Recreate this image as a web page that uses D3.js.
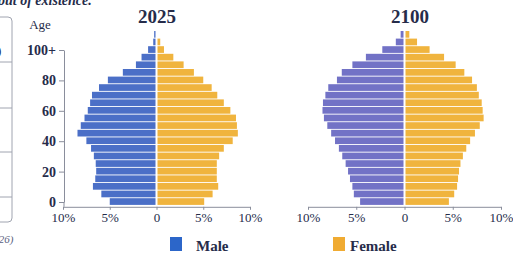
<!DOCTYPE html>
<html>
<head>
<meta charset="utf-8">
<script src="https://cdn.jsdelivr.net/npm/d3@7"></script>
<style>
  body { margin: 0; background: #fff; }
  svg { display: block; }
  text { font-family: "Liberation Serif", "DejaVu Serif", serif; fill: #262c4a; }
</style>
</head>
<body>
<script>
var W = 513, H = 256;

// 5-year age groups, bottom to top (groups above 100 sit over the "100+" tick)
var ageStart = [0, 5, 10, 15, 20, 25, 30, 35, 40, 45, 50, 55, 60, 65, 70, 75, 80, 85, 90, 95, 100, 105, 110];

// share of population, %
var male2025   = [5.0, 5.9, 6.8, 6.55, 6.45, 6.5, 6.7, 7.0, 7.5, 8.45, 8.1, 7.7, 7.35, 7.1, 6.9, 6.15, 5.2, 3.6, 2.2, 1.6, 0.9, 0.35, 0.25];
var female2025 = [5.1, 6.0, 6.6, 6.45, 6.45, 6.45, 6.7, 7.2, 8.15, 8.7, 8.6, 8.5, 7.9, 7.2, 6.5, 5.9, 5.0, 4.0, 2.9, 1.8, 0.8, 0.4, 0];
var male2100   = [4.6, 5.25, 5.4, 5.65, 5.85, 6.1, 6.45, 6.8, 7.2, 7.6, 8.0, 8.35, 8.5, 8.45, 8.2, 7.9, 7.0, 6.5, 5.4, 4.0, 2.3, 0.9, 0.4];
var female2100 = [4.6, 5.15, 5.45, 5.55, 5.65, 5.8, 6.05, 6.4, 6.8, 7.3, 7.8, 8.2, 8.1, 8.0, 7.7, 7.5, 7.0, 6.2, 5.3, 4.1, 2.6, 1.3, 0.5];

var ageTicks = [0, 20, 40, 60, 80, 100];
var pctTicks = [-10, -5, 0, 5, 10];
var legendLabels = ["Male", "Female"];

var svg = d3.select("body").append("svg")
  .attr("width", W)
  .attr("height", H);

// bits of the surrounding page
svg.append("text")
  .attr("x", -2).attr("y", 5)
  .style("font-size", "14px").style("font-style", "italic").style("font-weight", "bold")
  .text("out of existence.");

svg.append("rect")
  .attr("x", -30).attr("y", 17).attr("width", 42).attr("height", 205)
  .attr("rx", 4)
  .attr("fill", "none").attr("stroke", "#a0a4b0").attr("stroke-width", 1);
[62, 108, 152, 197].forEach(function(y) {
  svg.append("line").attr("x1", 0).attr("x2", 12).attr("y1", y).attr("y2", y)
    .attr("stroke", "#a0a4b0");
});
svg.append("text").attr("x", -3).attr("y", 55).style("font-size", "13px").text(")");
svg.append("text").attr("x", -5).attr("y", 243)
  .style("font-size", "11px").style("font-style", "italic").style("fill", "#59607e")
  .text("(26)");

// ticks sit at the middle of each age group
var y = d3.scaleLinear().domain([0, 100]).range([202, 50]);
var base = y(-2.5);

function pyramid(opts) {
  var x = d3.scaleLinear().domain([-10, 10]).range(opts.range);
  var g = svg.append("g");

  g.selectAll(".m").data(ageStart).enter().append("rect")
    .attr("x", function(d, i) { return x(-opts.male[i]); })
    .attr("y", function(d) { return y(d + 2.5); })
    .attr("width", function(d, i) { return Math.max(0, x(0) - x(-opts.male[i]) - 1); })
    .attr("height", function(d) { return y(d - 2.5) - y(d + 2.5) - 0.9; })
    .attr("fill", opts.maleColor);

  g.selectAll(".f").data(ageStart).enter().append("rect")
    .attr("x", x(0) + 1)
    .attr("y", function(d) { return y(d + 2.5); })
    .attr("width", function(d, i) { return Math.max(0, x(opts.female[i]) - x(0) - 1); })
    .attr("height", function(d) { return y(d - 2.5) - y(d + 2.5) - 0.9; })
    .attr("fill", opts.femaleColor);

  var xa = g.append("g")
    .attr("transform", "translate(0," + (base + 1) + ")")
    .call(d3.axisBottom(x).tickValues(pctTicks).tickSize(3).tickSizeOuter(0).tickPadding(3)
      .tickFormat(function(d) { return d === 0 ? "0" : Math.abs(d) + "%"; }));
  xa.select(".domain").attr("stroke", "#8a8e9c");
  xa.selectAll(".tick line").attr("stroke", "#8a8e9c");
  xa.selectAll("text").style("font-size", "13px").style("fill", "#262c4a")
    .attr("font-family", null);

  g.append("text")
    .attr("x", opts.titleX).attr("y", 23)
    .attr("text-anchor", "middle")
    .style("font-size", "19px").style("font-weight", "bold")
    .text(opts.title);
  return x;
}

pyramid({ range: [63, 250], male: male2025, female: female2025,
  maleColor: "#4b6fc7", femaleColor: "#f0b43e", title: "2025", titleX: 157 });
pyramid({ range: [308, 501], male: male2100, female: female2100,
  maleColor: "#7272c6", femaleColor: "#f0b43e", title: "2100", titleX: 410 });

var ya = svg.append("g")
  .attr("transform", "translate(64,0)")
  .call(d3.axisLeft(y).tickValues(ageTicks).tickSize(5).tickSizeOuter(0).tickPadding(3)
    .tickFormat(function(d) { return d === 100 ? "100+" : d; }));
ya.select(".domain").attr("stroke", "#8a8e9c");
ya.selectAll(".tick line").attr("stroke", "#8a8e9c");
ya.selectAll("text").style("font-size", "14px").style("font-weight", "bold")
  .style("fill", "#262c4a").attr("font-family", null);
ya.append("line").attr("x1", 0).attr("x2", 0).attr("y1", y(0)).attr("y2", base + 1)
  .attr("stroke", "#8a8e9c");

svg.append("text").attr("x", 40).attr("y", 29).attr("text-anchor", "middle")
  .style("font-size", "13px").text("Age");

// legend
var legendX = [170, 333], legendText = [196, 350], legendColors = ["#2c66c9", "#f0ab32"];
legendLabels.forEach(function(l, i) {
  svg.append("rect").attr("x", legendX[i]).attr("y", 237).attr("width", 12).attr("height", 14)
    .attr("fill", legendColors[i]);
  svg.append("text").attr("x", legendText[i]).attr("y", 251)
    .style("font-size", "15px").style("font-weight", "bold").text(l);
});
</script>
</body>
</html>
